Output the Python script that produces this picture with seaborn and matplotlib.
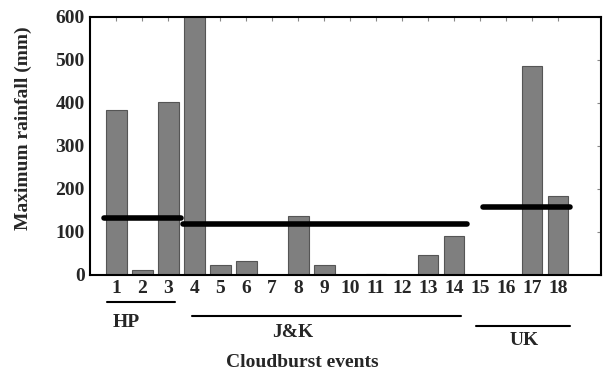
import matplotlib
matplotlib.use("Agg")
import matplotlib.pyplot as plt
import seaborn as sns

# Data
events = list(range(1, 19))
max_rain = [383, 12, 401, 640, 22, 32, 0, 137, 24, 0, 2, 0, 47, 90, 0, 0, 485, 184]

# regional reference lines (level, start, end)
regions = ["HP", "J&K", "UK"]
region_level = [132, 119, 158]
region_start = [0.52, 3.57, 15.1]
region_end = [3.5, 14.5, 18.45]

# group underlines below the tick labels
group_start = [0.63, 3.91, 14.85]
group_end = [3.27, 14.25, 18.48]

sns.set_style("white")
plt.rcParams["font.family"] = ["Liberation Serif", "DejaVu Serif"]
plt.rcParams["font.weight"] = "bold"

fs = 14

fig = plt.figure(figsize=(6.1, 3.75), dpi=100)
ax = fig.add_axes([0.148, 0.267, 0.837, 0.688])

sns.barplot(x=events, y=max_rain, native_scale=True, color="#7f7f7f",
            saturation=1, edgecolor="#555555", linewidth=0.8, ax=ax)

ax.hlines(region_level, region_start, region_end, color="black",
          linewidth=4, capstyle="round", zorder=5)

ax.set_xlim(0, 19.65)
ax.set_ylim(0, 600)
ax.set_xticks(events)
ax.set_xticklabels([str(e) for e in events], fontsize=fs, fontweight="bold")
ax.set_yticks(range(0, 601, 100))
ax.set_yticklabels([str(v) for v in range(0, 601, 100)], fontsize=fs,
                   fontweight="bold")
ax.tick_params(direction="in", length=3, top=True, right=True, width=0.8,
               pad=4, color="#888888")
for s in ax.spines.values():
    s.set_linewidth(1.5)
    s.set_color("black")

ax.set_ylabel("Maximum rainfall (mm)", fontsize=fs, fontweight="bold")
ax.yaxis.set_label_coords(-0.115, 0.57)
ax.set_xlabel("")

tr = ax.get_xaxis_transform()
line_y = [-0.105, -0.159, -0.198]
label_x = [1.37, 7.8, 16.7]
label_y = [-0.186, -0.225, -0.256]
for i, name in enumerate(regions):
    ax.plot([group_start[i], group_end[i]], [line_y[i], line_y[i]],
            color="black", linewidth=1.5, transform=tr, clip_on=False)
    ax.text(label_x[i], label_y[i], name, transform=tr, ha="center",
            va="center", fontsize=fs, fontweight="bold")

ax.text(8.15, -0.341, "Cloudburst events", transform=tr, ha="center",
        va="center", fontsize=fs, fontweight="bold")

fig.savefig("out.png", dpi=100)
